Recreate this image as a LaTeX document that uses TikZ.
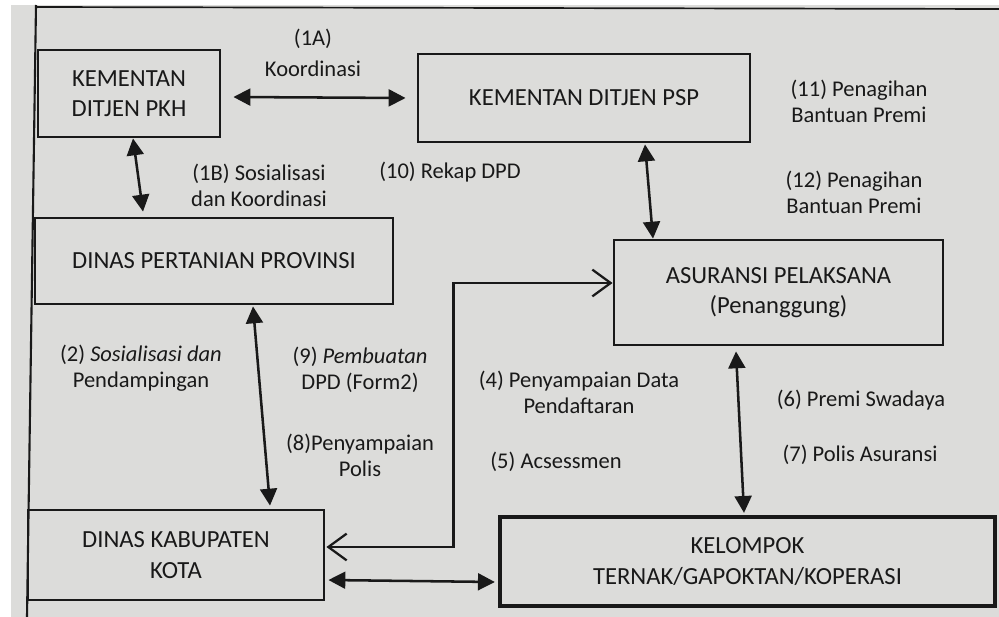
\documentclass[tikz,border=0pt]{standalone}
\usepackage{fontspec}
\setmainfont{Carlito}
\usepackage{tikz}
\usetikzlibrary{arrows.meta, calc}
\definecolor{papergray}{RGB}{220, 220, 218}
\definecolor{inkcolor}{RGB}{25, 25, 25}

\begin{document}
\begin{tikzpicture}[
    x=0.025cm, y=-0.025cm,
    box/.style={draw=inkcolor, text=inkcolor, line width=2pt, align=center, inner sep=0pt, font=\fontsize{17.5}{21.5}\selectfont},
    note/.style={text=inkcolor, align=center, inner sep=0pt, font=\fontsize{16}{18.5}\selectfont},
    link/.style={{Triangle[length=12pt,width=12pt]}-{Triangle[length=12pt,width=12pt]}, line width=1.8pt, draw=inkcolor},
    openlink/.style={{Straight Barb[length=13pt,width=19pt]}-{Straight Barb[length=13pt,width=19pt]}, line width=1.6pt, draw=inkcolor}
]
    % Paper and frame
    \useasboundingbox (0,0) rectangle (999,617);
    \fill[papergray] (11,5) rectangle (999,617);
    \draw[inkcolor, line width=1.2pt] (36,7) -- (999,9);
    \draw[inkcolor, line width=1.5pt] (36,5) -- (27,617);

    % Main entities
    \node[box, minimum width=4.55cm, minimum height=2.175cm] (pkh) at (129,93.5) {KEMENTAN\\DITJEN PKH};
    \node[box, minimum width=8.3cm, minimum height=2.2cm] (psp) at (584,98) {KEMENTAN DITJEN PSP};
    \node[box, minimum width=8.95cm, minimum height=2.15cm] (prov) at (214,261) {DINAS PERTANIAN PROVINSI};
    \node[box, minimum width=8.225cm, minimum height=2.625cm] (asr) at (778.5,292.5) {ASURANSI PELAKSANA\\(Penanggung)};
    \node[box, minimum width=7.4cm, minimum height=2.25cm] (kab) at (176,555) {DINAS KABUPATEN\\KOTA};
    \node[box, line width=3pt, minimum width=12.375cm, minimum height=2.225cm] (kel) at (747.5,561.5) {KELOMPOK\\TERNAK/GAPOKTAN/KOPERASI};

    % Labels
    \node[note] (l1a) at (313,53) {(1A)\\[4pt]Koordinasi};
    \node[note] (l1b) at (259,185) {(1B) Sosialisasi\\dan Koordinasi};
    \node[note] (l10) at (450,172) {(10) Rekap DPD};
    \node[note] (l11) at (859,101) {(11) Penagihan\\Bantuan Premi};
    \node[note] (l12) at (854,192) {(12) Penagihan\\Bantuan Premi};
    \node[note] (l2) at (141,368) {(2) \textit{Sosialisasi dan}\\Pendampingan};
    \node[note] (l9) at (360,370) {(9) \textit{Pembuatan}\\DPD (Form2)};
    \node[note] (l8) at (360,455) {(8)Penyampaian\\Polis};
    \node[note] (l4) at (579,392) {(4) Penyampaian Data\\Pendaftaran};
    \node[note] (l5) at (556,462) {(5) Acsessmen};
    \node[note] (l6) at (861,400) {(6) Premi Swadaya};
    \node[note] (l7) at (860,455) {(7) Polis Asuransi};

    % Relationships
    \draw[link] ($(pkh.east)+(12,3.5)$) -- ($(psp.west)+(-11,0)$);
    \draw[link] ($(pkh.south)+(4,0)$) -- ($(prov.north)+(-71,-5)$);
    \draw[link] ($(psp.south)+(61,1)$) -- ($(asr.north)+(-125.5,0)$);
    \draw[link] ($(prov.south)+(39,1)$) -- ($(kab.north)+(94,-3)$);
    \draw[link] ($(asr.south)+(-42.5,5)$) -- ($(kel.north)+(-3.5,-2)$);
    \draw[link] ($(kab.east)+(3,25)$) -- ($(kel.west)+(-3,20.5)$);
    \draw[openlink] ($(kab.east)+(1,-8)$) -- ++(127,0) |- ($(asr.west)+(0,-9.5)$);
\end{tikzpicture}
\end{document}
